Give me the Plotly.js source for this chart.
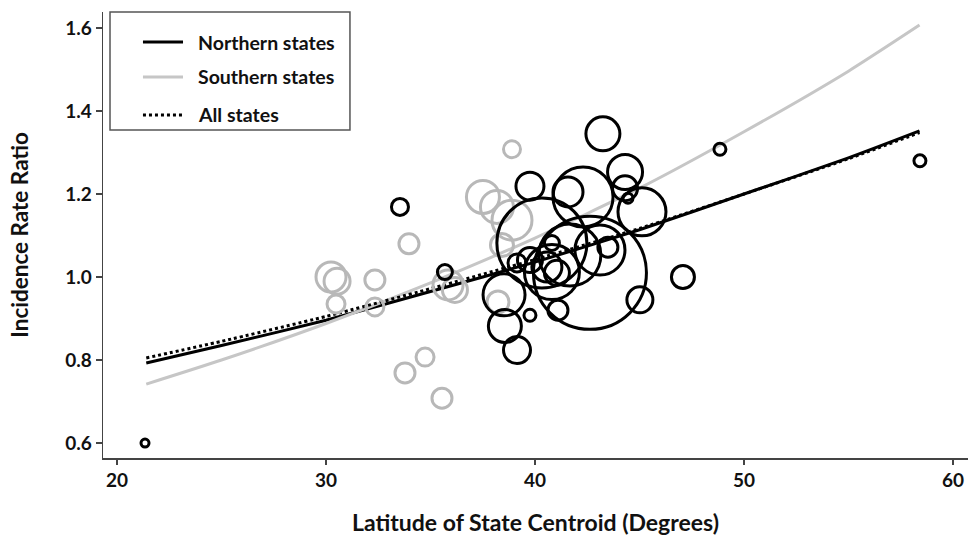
<!DOCTYPE html>
<html>
<head>
<meta charset="utf-8">
<script src="https://cdn.plot.ly/plotly-3.0.1.min.js"></script>
<style>html,body{margin:0;padding:0;background:#fff;}#chart{width:971px;height:542px;}</style>
</head>
<body>
<div id="chart"></div>
<script>
// Fitted curves
const fitLat = [21.4, 25, 30, 35, 40, 45, 50, 55, 58.4];
const northernFit = [0.793, 0.835, 0.896, 0.965, 1.036, 1.114, 1.200, 1.287, 1.352];
const southernFit = [0.742, 0.800, 0.888, 0.986, 1.094, 1.214, 1.350, 1.496, 1.607];
const allFit      = [0.805, 0.845, 0.905, 0.972, 1.042, 1.117, 1.200, 1.285, 1.348];

// Southern states (gray circles)
const southLat = [30.24, 30.53, 30.48, 32.34, 32.34, 33.97, 33.78, 34.74, 35.55, 35.84, 36.17, 37.51, 38.18, 38.90, 38.42, 38.23, 38.90];
const southIRR = [1.000, 0.990, 0.935, 0.993, 0.928, 1.080, 0.769, 0.807, 0.708, 0.981, 0.969, 1.193, 1.169, 1.137, 1.077, 0.940, 1.308];
const southSize = [30, 26, 18, 20, 18, 20, 20, 18, 20, 30, 25, 33, 33, 40, 23, 22, 17];

// Northern states (black circles)
const northLat = [21.34, 33.54, 35.69, 43.25, 48.85, 58.42, 47.08, 45.02, 39.76, 41.58, 44.31, 44.31, 44.45, 45.12, 42.30, 40.33, 42.63, 38.52, 38.56, 39.14, 39.76, 41.10, 43.49, 39.14, 39.76, 40.57, 41.05, 40.81, 40.81, 41.67, 43.11];
const northIRR = [0.600, 1.169, 1.012, 1.345, 1.308, 1.280, 1.000, 0.945, 1.219, 1.205, 1.253, 1.214, 1.190, 1.157, 1.193, 1.082, 1.010, 0.957, 0.882, 0.824, 0.908, 0.920, 1.072, 1.034, 1.041, 1.024, 1.010, 1.082, 1.012, 1.053, 1.065];
const northSize = [8, 17, 15, 34, 12, 12, 23, 26, 28, 30, 35, 25, 10, 48, 60, 90, 113, 42, 33, 27, 12, 20, 20, 18, 25, 30, 25, 15, 55, 62, 50];

const xTicks = [20, 30, 40, 50, 60];
const yTicks = [0.6, 0.8, 1.0, 1.2, 1.4, 1.6];
const legendNames = ['Northern states', 'Southern states', 'All states'];

const FONT = 'Lato, "Open Sans", sans-serif';
const GRAY = '#b8b8b8';
const LINEGRAY = '#c6c6c6';

const traces = [
  {x: fitLat, y: northernFit, mode: 'lines', type: 'scatter', name: legendNames[0], hoverinfo: 'skip',
   line: {color: '#000', width: 3, shape: 'spline', smoothing: 0.6}},
  {x: fitLat, y: southernFit, mode: 'lines', type: 'scatter', name: legendNames[1], hoverinfo: 'skip',
   line: {color: LINEGRAY, width: 3, shape: 'spline', smoothing: 0.6}},
  {x: fitLat, y: allFit, mode: 'lines', type: 'scatter', name: legendNames[2], hoverinfo: 'skip',
   line: {color: '#000', width: 3, dash: 'dot', shape: 'spline', smoothing: 0.6}},
  {x: southLat, y: southIRR, mode: 'markers', type: 'scatter', name: 'Southern states (data)', hoverinfo: 'skip',
   marker: {symbol: 'circle-open', size: southSize, color: GRAY, opacity: 1, line: {width: 3, color: GRAY}}},
  {x: northLat, y: northIRR, mode: 'markers', type: 'scatter', name: 'Northern states (data)', hoverinfo: 'skip',
   marker: {symbol: 'circle-open', size: northSize, color: '#000', opacity: 1, line: {width: 3, color: '#000'}}}
];

// Legend drawn in paper coordinates
const legY = [0.9327, 0.8543, 0.7691];
const legStyle = [
  {color: '#000', width: 3, dash: 'solid'},
  {color: LINEGRAY, width: 3, dash: 'solid'},
  {color: '#000', width: 3, dash: 'dot'}
];
const shapes = [
  {type: 'rect', xref: 'paper', yref: 'paper', x0: 0.0081, x1: 0.2855, y0: 0.7354, y1: 1.0,
   line: {color: '#555', width: 1.5}, fillcolor: '#fff', layer: 'above'}
];
legY.forEach((yy, i) => shapes.push({type: 'line', xref: 'paper', yref: 'paper',
  x0: 0.0462, x1: 0.0925, y0: yy, y1: yy, line: legStyle[i], layer: 'above'}));
const annotations = legY.map((yy, i) => ({xref: 'paper', yref: 'paper', x: 0.1075, y: yy,
  xanchor: 'left', yanchor: 'middle', showarrow: false, text: legendNames[i],
  font: {family: FONT, size: 19.5, weight: 'bold', color: '#111'}}));

const layout = {
  width: 971, height: 542,
  margin: {l: 103, r: 3, t: 12, b: 84},
  paper_bgcolor: '#fff', plot_bgcolor: '#fff',
  font: {family: FONT, color: '#111'},
  showlegend: false,
  shapes: shapes,
  annotations: annotations,
  xaxis: {
    range: [19.33, 60.72], tickvals: xTicks, ticktext: xTicks.map(String),
    showgrid: false, zeroline: false, showline: true, linecolor: '#444', linewidth: 1.5,
    ticks: 'outside', ticklen: 5, tickwidth: 1.3, tickcolor: '#444',
    tickfont: {family: FONT, size: 19, weight: 'bold', color: '#111'},
    title: {text: 'Latitude of State Centroid (Degrees)', standoff: 24,
            font: {family: FONT, size: 23, weight: 'bold', color: '#111'}},
    automargin: false
  },
  yaxis: {
    range: [0.5639, 1.6386], tickvals: yTicks, ticktext: yTicks.map(v => v.toFixed(1)),
    showgrid: false, zeroline: false, showline: true, linecolor: '#444', linewidth: 1.5,
    ticks: 'outside', ticklen: 6, tickwidth: 1.3, tickcolor: '#444',
    tickfont: {family: FONT, size: 19, weight: 'bold', color: '#111'},
    title: {text: 'Incidence Rate Ratio', standoff: 30,
            font: {family: FONT, size: 22.5, weight: 'bold', color: '#111'}},
    automargin: false
  }
};

Plotly.newPlot('chart', traces, layout, {displayModeBar: false, staticPlot: true});
</script>
</body>
</html>
